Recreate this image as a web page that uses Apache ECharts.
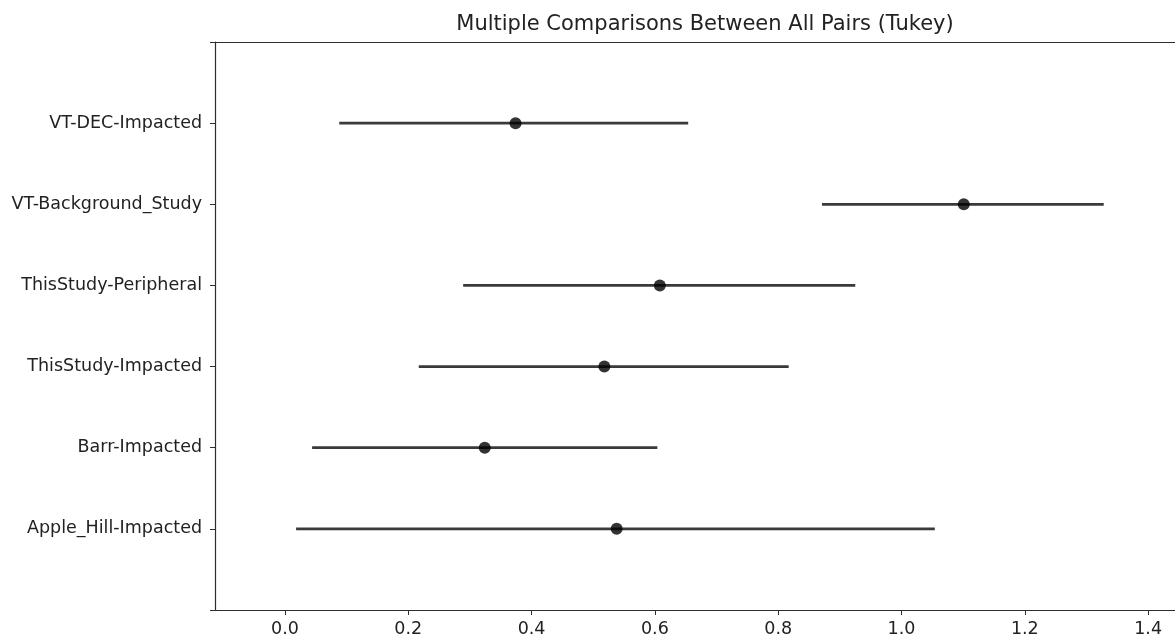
<!DOCTYPE html>
<html>
<head>
<meta charset="utf-8">
<script src="https://cdn.jsdelivr.net/npm/echarts@6/dist/echarts.min.js"></script>
<style>
html,body{margin:0;padding:0;background:#fff;}
#chart{width:1175px;height:639px;}
</style>
</head>
<body>
<div id="chart"></div>
<script>
// Groups, bottom to top
const groups = ["Apple_Hill-Impacted", "Barr-Impacted", "ThisStudy-Impacted", "ThisStudy-Peripheral", "VT-Background_Study", "VT-DEC-Impacted"];
const means  = [0.538, 0.324, 0.518, 0.608, 1.101, 0.374];
const lower  = [0.018, 0.044, 0.217, 0.289, 0.871, 0.088];
const upper  = [1.054, 0.604, 0.817, 0.925, 1.328, 0.654];
const xTicks = [0.0, 0.2, 0.4, 0.6, 0.8, 1.0, 1.2, 1.4];
const xMin = -0.1135, xMax = 1.4436;   // visible part of the x range (plot is cut at the right edge)

const intervalData = groups.map((g, i) => [lower[i], upper[i], i]);
const meanData = groups.map((g, i) => [means[i], i]);

const font = 'DejaVu Sans';
const spine = '#2e2e2e';
const chart = echarts.init(document.getElementById('chart'), null, {renderer: 'canvas'});
chart.setOption({
  animation: false,
  backgroundColor: '#fff',
  title: {
    text: 'Multiple Comparisons Between All Pairs (Tukey)',
    left: 700, top: 9, textAlign: 'center',
    textStyle: {fontFamily: font, fontSize: 21, fontWeight: 'normal', color: '#222'}
  },
  grid: {left: 215, top: 42, right: 0, bottom: 29, show: false},
  xAxis: [{
    type: 'value', min: xMin, max: xMax, position: 'bottom',
    splitLine: {show: false},
    axisLine: {show: true, onZero: false, lineStyle: {color: spine, width: 1.2}},
    axisTick: {show: true, length: 5, lineStyle: {color: spine}, customValues: xTicks},
    axisLabel: {show: true, customValues: xTicks, margin: 10, fontFamily: font, fontSize: 17.5, color: '#222',
      formatter: v => Number(v).toFixed(1)}
  }, {
    type: 'value', min: xMin, max: xMax, position: 'top',
    splitLine: {show: false},
    axisLine: {show: true, onZero: false, lineStyle: {color: spine, width: 1.2}},
    axisTick: {show: false},
    axisLabel: {show: false}
  }],
  yAxis: {
    type: 'value', min: -1, max: groups.length, interval: 1,
    splitLine: {show: false},
    axisLine: {show: true, onZero: false, lineStyle: {color: spine, width: 1.2}},
    axisTick: {show: true, length: 5, lineStyle: {color: spine}},
    axisLabel: {margin: 13, fontFamily: font, fontSize: 17.5, color: '#222',
      formatter: v => (v >= 0 && v < groups.length) ? groups[v] : ''}
  },
  series: [
    {
      type: 'custom',
      data: intervalData,
      encode: {x: [0, 1], y: 2},
      renderItem: (params, api) => {
        const p1 = api.coord([api.value(0), api.value(2)]);
        const p2 = api.coord([api.value(1), api.value(2)]);
        return {type: 'line', shape: {x1: p1[0], y1: p1[1], x2: p2[0], y2: p2[1]},
          style: {stroke: '#3a3a3a', lineWidth: 2.8}};
      },
      z: 2
    },
    {
      type: 'scatter',
      data: meanData,
      symbol: 'circle', symbolSize: 12,
      itemStyle: {color: '#000'},
      z: 3
    }
  ]
});
</script>
</body>
</html>
